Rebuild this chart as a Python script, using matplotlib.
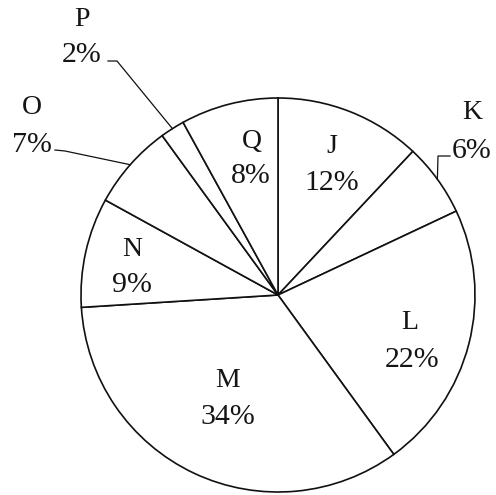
import numpy as np
import matplotlib
matplotlib.use("Agg")
import matplotlib.pyplot as plt

# ---- data ----
labels = ["J", "K", "L", "M", "N", "O", "P", "Q"]
values = [12, 6, 22, 34, 9, 7, 2, 8]

# ---- layout (pixel coords of the 496x495 canvas, y from top; text y = baseline) ----
W, H = 496, 495
CX, CY, R = 278, 295, 197
letter_pos = {"J": (332, 153), "K": (472, 119), "L": (410, 329), "M": (228, 387),
              "N": (132, 256), "O": (32, 114), "P": (82, 26), "Q": (252, 148)}
pct_pos = {"J": (332, 190), "K": (472, 158), "L": (412, 367), "M": (228, 424),
           "N": (132, 292), "O": (32, 152), "P": (82, 62), "Q": (251, 183)}
# leader elbows: (elbow point, end point)
leaders = {"K": ((438, 156), (450, 156)),
           "O": ((65, 151), (55, 150)),
           "P": ((117, 61), (108, 61))}

plt.rcParams['font.family'] = ['Liberation Serif', 'DejaVu Serif']

fig = plt.figure(figsize=(W / 100, H / 100), dpi=100)
ax = fig.add_axes([0, 0, 1, 1])
ax.axis('off')

def fy(y):
    return H - y

wedges, _ = ax.pie(values, startangle=90, counterclock=False, center=(CX, fy(CY)),
                   radius=R, colors=['white'] * len(values),
                   wedgeprops=dict(edgecolor='#111111', linewidth=1.2))
ax.set_xlim(0, W)
ax.set_ylim(0, H)
ax.set_aspect('auto')

for lab, v, w in zip(labels, values, wedges):
    lx, ly = letter_pos[lab]
    px, py = pct_pos[lab]
    ax.text(lx, fy(ly), lab, ha='center', va='baseline', fontsize=20, color='#151515')
    ax.text(px, fy(py), f"{v}%", ha='center', va='baseline', fontsize=21.5, color='#151515')
    if lab in leaders:
        mid = np.deg2rad((w.theta1 + w.theta2) / 2)
        ex, ey = CX + R * np.cos(mid), fy(CY) + R * np.sin(mid)
        (bx, by), (tx, ty) = leaders[lab]
        ax.plot([ex, bx, tx], [ey, fy(by), fy(ty)], color='#111111', lw=0.9,
                solid_joinstyle='miter')

fig.savefig("out.png", dpi=100)
